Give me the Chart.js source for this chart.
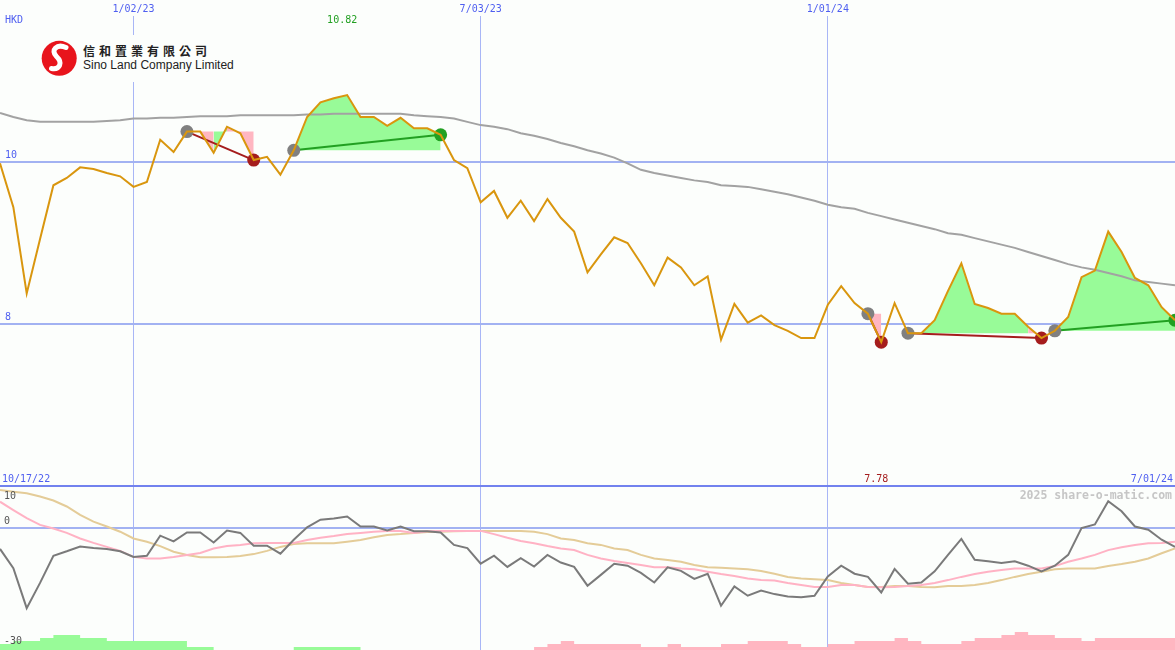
<!DOCTYPE html>
<html><head><meta charset="utf-8">
<script src="https://cdn.jsdelivr.net/npm/chart.js@4.4.0/dist/chart.umd.min.js"></script>
<style>
html,body{margin:0;padding:0;background:#fcfefc;}
#wrap{position:relative;width:1175px;height:650px;overflow:hidden;background:#fcfefc;}
#main{position:absolute;left:0;top:0;}
#osc{position:absolute;left:0;top:485px;}
#logo{position:absolute;left:38px;top:35px;width:200px;height:47px;background:#fcfefc;}
#logo svg{position:absolute;left:0;top:0;}
#logo .cn{position:absolute;left:45px;top:9px;font:700 12px "Noto Sans CJK TC",sans-serif;letter-spacing:4px;color:#222;line-height:14px;white-space:nowrap;}
#logo .en{position:absolute;left:45px;top:23px;font:12px "Liberation Sans",Arial,sans-serif;color:#222;line-height:14px;white-space:nowrap;}
</style></head>
<body><div id="wrap">
<canvas id="main" width="1175" height="485"></canvas>
<canvas id="osc" width="1175" height="165"></canvas>
<div id="logo">
<svg width="44" height="47" viewBox="0 0 44 47"><circle cx="21.2" cy="23.3" r="17.5" fill="#e8141c"/>
<path d="M28 12.5 C 19 8.5, 12 15, 18.5 21.5 C 25 27.5, 22 35, 13.5 33.5" stroke="#fff" stroke-width="5" fill="none" stroke-linecap="round"/></svg>
<div class="cn">信和置業有限公司</div>
<div class="en">Sino Land Company Limited</div>
</div>
</div>
<script>
// ---- data ----
const currency = 'HKD';
const startLabel = '10/17/22';
const endLabel = '7/01/24';
const dateIdx = [10, 36, 62];
const dateLabels = ['1/02/23', '7/03/23', '1/01/24'];
const priceTicks = [8, 10];
const oscTicks = [10, 0, -30];
const oscGrid = [0];

const price = [9.98,9.44,8.38,9.05,9.71,9.80,9.93,9.91,9.86,9.82,
 9.69,9.75,10.27,10.12,10.37,10.37,10.11,10.43,10.35,10.02,
 10.06,9.84,10.14,10.55,10.73,10.78,10.82,10.55,10.55,10.44,
 10.54,10.41,10.41,10.33,10.02,9.92,9.50,9.64,9.31,9.52,
 9.27,9.54,9.31,9.14,8.64,8.86,9.07,9.00,8.75,8.48,
 8.82,8.70,8.48,8.59,7.81,8.25,8.02,8.11,7.99,7.92,
 7.83,7.83,8.24,8.47,8.26,8.13,7.78,8.26,7.89,7.89,
 8.05,8.41,8.75,8.25,8.20,8.13,8.13,7.97,7.83,7.92,
 8.09,8.58,8.66,9.14,8.89,8.57,8.48,8.21,8.05];

const trendMA = [10.60,10.55,10.51,10.49,10.49,10.49,10.49,10.49,10.50,10.51,
 10.53,10.53,10.54,10.54,10.55,10.56,10.56,10.56,10.57,10.57,
 10.57,10.57,10.57,10.58,10.58,10.59,10.59,10.59,10.59,10.59,
 10.59,10.57,10.56,10.55,10.53,10.49,10.45,10.43,10.40,10.35,
 10.32,10.28,10.23,10.19,10.14,10.10,10.05,9.98,9.90,9.86,
 9.83,9.80,9.77,9.75,9.71,9.70,9.69,9.66,9.63,9.60,
 9.56,9.52,9.47,9.44,9.42,9.37,9.33,9.29,9.25,9.21,
 9.17,9.12,9.10,9.06,9.02,8.98,8.94,8.89,8.84,8.79,
 8.74,8.70,8.67,8.63,8.59,8.54,8.52,8.50,8.48];

const oscDev = [-5.3,-10.1,-20.1,-13.8,-7.0,-5.9,-4.7,-5.1,-5.3,-5.9,
 -7.3,-7.0,-2.0,-3.4,-1.2,-1.2,-3.7,-0.7,-1.3,-4.5,
 -4.5,-6.5,-3.0,0.1,2.0,2.3,2.8,0.3,0.3,-0.7,
 0.3,-0.9,-0.9,-1.2,-4.3,-5.1,-9.0,-7.0,-9.8,-7.6,
 -9.7,-6.8,-8.7,-9.8,-14.5,-11.8,-9.0,-9.5,-11.3,-13.7,
 -9.9,-10.8,-12.8,-11.5,-19.5,-14.7,-17.0,-15.7,-16.6,-17.2,
 -17.4,-17.0,-12.2,-9.5,-11.5,-12.3,-16.2,-10.3,-14.0,-13.7,
 -10.9,-6.8,-2.8,-8.0,-8.4,-8.8,-8.4,-9.5,-10.9,-9.5,
 -6.8,-0.1,0.8,6.6,4.1,0.3,-0.5,-3.0,-4.8];

const oscFast = [6.5,4.4,2.4,0.7,-0.2,-1.3,-2.7,-3.8,-4.8,-5.8,
 -7.3,-7.7,-7.7,-7.3,-6.8,-6.3,-5.2,-4.6,-4.3,-3.9,
 -3.8,-3.8,-3.8,-3.1,-2.5,-2.1,-1.6,-1.3,-1.0,-0.8,
 -0.8,-1.3,-0.9,-0.8,-0.8,-0.8,-0.8,-1.6,-2.5,-3.3,
 -3.9,-4.6,-5.2,-5.6,-6.8,-7.7,-8.3,-8.8,-9.3,-9.9,
 -9.9,-10.2,-10.4,-11.0,-11.6,-12.1,-12.7,-13.1,-13.2,-13.8,
 -14.3,-14.8,-14.8,-14.3,-14.3,-14.8,-14.9,-14.8,-14.6,-14.3,
 -13.8,-13.1,-12.3,-11.6,-11.0,-10.6,-10.2,-10.2,-10.2,-9.6,
 -8.5,-7.7,-6.8,-5.6,-4.9,-4.3,-3.9,-3.8,-3.5];

const oscSlow = [9.4,9.0,8.6,7.8,6.8,5.3,3.2,1.5,0.3,-1.0,
 -2.7,-3.5,-4.6,-6.0,-6.8,-7.4,-7.4,-7.3,-7.1,-6.6,
 -5.8,-4.8,-4.1,-3.9,-3.9,-3.9,-3.5,-3.1,-2.4,-1.8,
 -1.6,-1.3,-1.1,-1.0,-0.9,-0.8,-0.8,-0.8,-0.8,-0.8,
 -1.0,-1.6,-2.7,-3.1,-3.9,-4.3,-5.2,-5.6,-6.8,-7.7,
 -8.1,-8.5,-9.3,-9.9,-10.0,-10.2,-10.4,-10.8,-11.5,-12.3,
 -12.7,-12.9,-13.1,-13.8,-14.3,-14.8,-14.8,-14.6,-14.6,-14.8,
 -14.9,-14.6,-14.6,-14.3,-13.8,-13.1,-12.3,-11.6,-11.0,-10.4,
 -10.2,-10.2,-10.2,-9.6,-9.1,-8.5,-7.7,-6.4,-5.2];

const greenBars = [2,2,3,3,4,5,5,4,4,3,
 3,3,3,3,3,1,1,0,0,0,
 0,0,0,1,1,1,1,1,0,0,
 0,0,0,0,0,0,0,0,0,0,
 0,0,0,0,0,0,0,0,0,0,
 0,0,0,0,0,0,0,0,0,0,
 0,0,0,0,0,0,0,0,0,0,
 0,0,0,0,0,0,0,0,0,0,
 0,0,0,0,0,0,0,0,0];

const pinkBars = [0,0,0,0,0,0,0,0,0,0,
 0,0,0,0,0,0,0,0,0,0,
 0,0,0,0,0,0,0,0,0,0,
 0,0,0,0,0,0,0,0,0,0,
 0,1,2,3,2,2,2,2,2,1,
 1,2,1,1,1,2,2,3,3,3,
 2,1,1,2,2,3,3,3,4,3,
 2,2,2,3,4,4,5,6,5,5,
 4,4,3,4,4,4,4,4,4];

// pattern annotations (indices into price)
const patStart = [14, 22, 65, 68, 79];
const patEnd   = [19, 33, 66, 78, 88];
const fillStart = [14, 16, 17, 22, 65, 68, 77, 79];
const fillEnd   = [16, 17, 19, 33, 66, 77, 78, 88];
const fillTone  = ['down','up','down','up','down','up','down','up'];
const fillLevelIdx = [14, 14, 14, 22, 65, 68, 68, 79];

// ---- styles ----
const C = {
  price:'#d9960e', ma:'#a2a2a2', grid:'#a8b6f6', gridH:'#a2b2f2', divider:'#7282ee',
  label:'#4f5ff0', up:'#22a022', down:'#a51d1d', dot:'#808080',
  fillUp:'#98fb98', fillDown:'#ffb6c1', osc:'#7a7a7a', fast:'#ffb2c4', slow:'#e4cc98'
};
const FONT = '10px "DejaVu Sans Mono", monospace';
const pts = arr => arr.map((v,i)=>({x:i,y:v}));
const nPts = price.length - 1;

function xScaleOpts(){
  return {type:'linear', min:0, max:nPts, display:true,
    ticks:{display:false}, border:{display:false},
    grid:{color:C.grid, lineWidth:1, drawTicks:false},
    afterBuildTicks:a=>{a.ticks = dateIdx.map(v=>({value:v}));},
    afterFit:a=>{a.height=0;}};
}

// ---- main chart ----
const fillSets = fillStart.map((s,k)=>({
  data: price.slice(s, fillEnd[k]+1).map((v,j)=>({x:s+j,y:v})),
  borderWidth:0, pointRadius:0,
  backgroundColor: fillTone[k]==='up' ? C.fillUp : C.fillDown,
  fill:{value: price[fillLevelIdx[k]]}, order:6
}));
const trendSets = patStart.map((s,k)=>{
  const e = patEnd[k]; const up = price[e] >= price[s];
  return {data:[{x:s,y:price[s]},{x:e,y:price[e]}], borderColor: up?C.up:C.down,
    borderWidth:2, pointRadius:0, fill:false, order:3};
});
const endColors = patEnd.map((e,k)=> price[e] >= price[patStart[k]] ? C.up : C.down);

const mainLabels = {
  id:'mainLabels',
  afterDraw(chart){
    const {ctx, scales:{x,y}} = chart;
    ctx.save();
    ctx.font = FONT; ctx.textBaseline = 'middle';
    ctx.fillStyle = C.label; ctx.textAlign = 'center';
    dateIdx.forEach((v,k)=>ctx.fillText(dateLabels[k], x.getPixelForValue(v), 9));
    ctx.textAlign = 'left';
    ctx.fillText(currency, 5, 20);
    priceTicks.forEach(v=>ctx.fillText(String(v), 5, y.getPixelForValue(v)-6.5));
    ctx.fillText(startLabel, 2, 479);
    ctx.textAlign = 'right';
    ctx.fillText(endLabel, 1173, 479);
    // high / low labels
    let hi = 0, lo = 0;
    price.forEach((v,i)=>{ if(v>price[hi]) hi=i; if(v<price[lo]) lo=i; });
    ctx.textAlign = 'center';
    ctx.fillStyle = C.up;
    ctx.fillText(price[hi].toFixed(2), x.getPixelForValue(hi)-5, 20);
    ctx.fillStyle = C.down;
    ctx.fillText(price[lo].toFixed(2), x.getPixelForValue(lo)-5, 479);
    ctx.restore();
  }
};

new Chart(document.getElementById('main'), {
  type:'line',
  data:{datasets:[
    {data:pts(price), borderColor:C.price, borderWidth:2, pointRadius:0, fill:false, order:0},
    {data:patStart.map(s=>({x:s,y:price[s]})), showLine:false, pointRadius:6.5, pointBorderWidth:0,
      pointBackgroundColor:C.dot, order:2},
    {data:patEnd.map(e=>({x:e,y:price[e]})), showLine:false, pointRadius:6.5, pointBorderWidth:0,
      pointBackgroundColor:endColors, order:2},
    ...trendSets,
    {data:pts(trendMA), borderColor:C.ma, borderWidth:2, pointRadius:0, fill:false, order:5},
    ...fillSets
  ]},
  options:{
    responsive:false, animation:false, devicePixelRatio:1,
    layout:{autoPadding:false, padding:{top:16,left:0,right:0,bottom:0}},
    plugins:{legend:{display:false}, tooltip:{enabled:false}},
    elements:{line:{tension:0}},
    scales:{
      x: xScaleOpts(),
      y:{type:'linear', min:6.023, max:11.792, display:true,
        ticks:{display:false}, border:{display:false},
        grid:{color:C.gridH, lineWidth:2, drawTicks:false},
        afterBuildTicks:a=>{a.ticks = priceTicks.map(v=>({value:v}));},
        afterFit:a=>{a.width=0;}}
    }
  },
  plugins:[mainLabels]
});

// ---- oscillator chart ----
const oscLabels = {
  id:'oscLabels',
  afterDraw(chart){
    const {ctx, scales:{y}} = chart;
    ctx.save();
    ctx.fillStyle = C.divider;
    ctx.fillRect(0, 0, chart.width, 2);
    ctx.font = FONT; ctx.textBaseline = 'middle'; ctx.textAlign = 'left';
    ctx.fillStyle = '#555';
    oscTicks.forEach(v=>{
      let py = y.getPixelForValue(v) - 6.5;
      py = Math.max(11, Math.min(157, py));
      ctx.fillText(String(v), 4, py);
    });
    ctx.font = 'bold 11.5px "DejaVu Sans Mono", monospace';
    ctx.fillStyle = '#c6c6c6'; ctx.textAlign = 'right';
    ctx.fillText('2025 share-o-matic.com', 1172, 11);
    ctx.restore();
  }
};

new Chart(document.getElementById('osc'), {
  type:'line',
  data:{datasets:[
    {data:pts(oscDev), borderColor:C.osc, borderWidth:2, pointRadius:0, fill:false, order:0},
    {data:pts(oscFast), borderColor:C.fast, borderWidth:2, pointRadius:0, fill:false, order:1},
    {data:pts(oscSlow), borderColor:C.slow, borderWidth:2, pointRadius:0, fill:false, order:2},
    {data:pts(greenBars), yAxisID:'yv', stepped:'after', borderWidth:0, pointRadius:0,
      backgroundColor:C.fillUp, fill:'origin', order:4},
    {data:pts(pinkBars), yAxisID:'yv', stepped:'after', borderWidth:0, pointRadius:0,
      backgroundColor:C.fillDown, fill:'origin', order:4}
  ]},
  options:{
    responsive:false, animation:false, devicePixelRatio:1,
    layout:{autoPadding:false, padding:0},
    plugins:{legend:{display:false}, tooltip:{enabled:false}},
    elements:{line:{tension:0}},
    scales:{
      x: xScaleOpts(),
      y:{type:'linear', min:-30.575, max:10.675, display:true,
        ticks:{display:false}, border:{display:false},
        grid:{color:C.gridH, lineWidth:2, drawTicks:false},
        afterBuildTicks:a=>{a.ticks = oscGrid.map(v=>({value:v}));},
        afterFit:a=>{a.width=0;}},
      yv:{type:'linear', min:0, max:55, display:false}
    }
  },
  plugins:[oscLabels]
});
</script>
</body></html>
